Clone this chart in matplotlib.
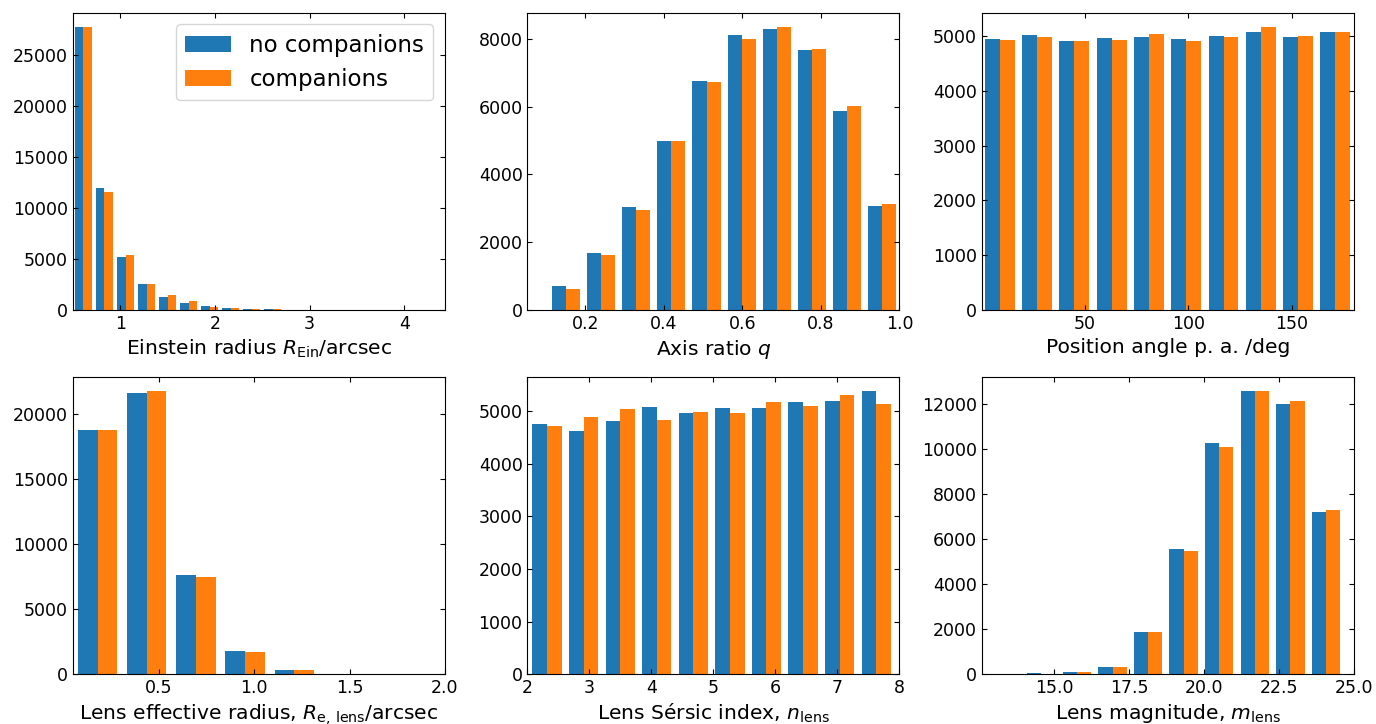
import numpy as np
import matplotlib
matplotlib.use("Agg")
import matplotlib.pyplot as plt
from matplotlib.ticker import MultipleLocator

OUTPUT = "out.png"
LABELS = ["no companions", "companions"]

# bin edges and counts
ein_edges = np.linspace(0.5, 4.5, 19)
ein_nocomp = [27750, 11950, 5200, 2550, 1300, 720, 330, 230, 130, 60, 30, 20, 12, 8, 5, 3, 2, 1]
ein_comp = [27750, 11570, 5380, 2550, 1430, 840, 260, 200, 100, 40, 25, 15, 10, 6, 4, 2, 1, 1]

q_edges = np.linspace(0.107, 1.0, 11)
q_nocomp = [690, 1680, 3040, 4990, 6760, 8110, 8290, 7670, 5870, 3070]
q_comp = [620, 1620, 2950, 4990, 6730, 7990, 8350, 7700, 6010, 3130]

pa_edges = np.linspace(0, 180, 11)
pa_nocomp = [4950, 5025, 4915, 4970, 4990, 4950, 5005, 5080, 4990, 5080]
pa_comp = [4935, 4990, 4915, 4935, 5045, 4915, 4990, 5170, 5005, 5080]

re_edges = 0.05 + 0.258 * np.arange(9)
re_nocomp = [18780, 21580, 7640, 1790, 340, 40, 20, 15]
re_comp = [18780, 21720, 7490, 1710, 330, 35, 15, 10]

n_edges = np.linspace(2.02, 7.92, 11)
n_nocomp = [4750, 4620, 4810, 5075, 4960, 5055, 5055, 5170, 5190, 5380]
n_comp = [4715, 4885, 5040, 4830, 4980, 4960, 5170, 5095, 5320, 5135]

mag_edges = 12.8 + 1.186 * np.arange(11)
mag_nocomp = [10, 25, 75, 330, 1880, 5560, 10300, 12580, 12000, 7200]
mag_comp = [8, 20, 70, 330, 1880, 5470, 10120, 12580, 12130, 7290]

panels = [
    (ein_edges, ein_nocomp, ein_comp, r"Einstein radius $R_{\rm Ein}$/arcsec", (0.5, 4.43)),
    (q_edges, q_nocomp, q_comp, r"Axis ratio $q$", (0.053, 1.0)),
    (pa_edges, pa_nocomp, pa_comp, "Position angle p. a. /deg", (0.4, 180)),
    (re_edges, re_nocomp, re_comp, r"Lens effective radius, $R_{\rm e,\,lens}$/arcsec", (0.05, 2.0)),
    (n_edges, n_nocomp, n_comp, r"Lens Sérsic index, $n_{\rm lens}$", (2, 8)),
    (mag_edges, mag_nocomp, mag_comp, r"Lens magnitude, $m_{\rm lens}$", (12.6, 25.0)),
]


def plot():
    fig, axes = plt.subplots(2, 3, figsize=(13.76, 7.24), dpi=100)
    fig.subplots_adjust(left=0.053, right=0.984, top=0.982, bottom=0.069,
                        wspace=0.222, hspace=0.227)

    for ax, (edges, a, b, xlabel, xlim) in zip(axes.flat, panels):
        w = np.diff(edges)
        left = edges[:-1]
        ax.bar(left + 0.1 * w, a, width=0.4 * w, align="edge", color="C0", label=LABELS[0])
        ax.bar(left + 0.5 * w, b, width=0.4 * w, align="edge", color="C1", label=LABELS[1])
        ax.set_xlim(*xlim)
        ax.set_xlabel(xlabel, fontsize=14.6, labelpad=3.5)
        ax.tick_params(direction="in", top=True, right=True, labelsize=12.5)

    # magnitude panel uses 2.5 mag steps
    axes[1, 2].xaxis.set_major_locator(MultipleLocator(2.5))

    axes[0, 0].legend(fontsize=16.5, loc="upper right")

    fig.savefig(OUTPUT)
    plt.close(fig)


if __name__ == "__main__":
    plot()
